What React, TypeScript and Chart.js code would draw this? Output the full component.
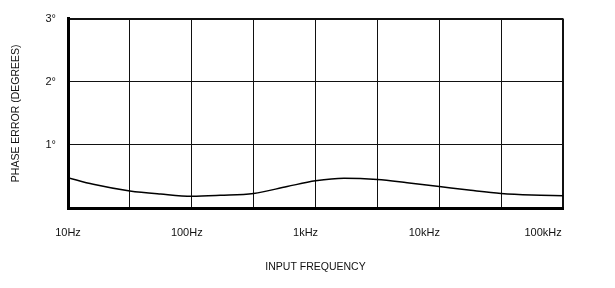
import { useEffect, useRef } from 'react';
import { Chart, registerables } from 'chart.js';

Chart.register(...registerables);

// Curve samples: input frequency (Hz) vs phase error (degrees)
const FREQS = [10, 16, 31.6, 56, 100, 170, 316, 590, 1000, 1700, 3160, 5500, 10000, 18000, 31600, 56000, 100000];
const PHASE_ERR = [0.48, 0.375, 0.27, 0.22, 0.185, 0.2, 0.23, 0.34, 0.43, 0.47, 0.45, 0.4, 0.34, 0.28, 0.23, 0.205, 0.195];

// Grid lines (half-decade) and labelled ticks
const GRID_FREQS = [10, 31.62, 100, 316.2, 1000, 3162, 10000, 31620, 100000];
const TICK_FREQS = [10, 100, 1000, 10000, 100000];
const TICK_LABELS = ['10Hz', '100Hz', '1kHz', '10kHz', '100kHz'];
const LABEL_AXIS_MAX = 147000;

const Y_TICKS = [0, 1, 2, 3];
const Y_TICK_LABELS = ['', '1°', '2°', '3°'];

const FONT = 'Liberation Sans, Arial, sans-serif';
const INK = '#111';

export default function App() {
  const ref = useRef<HTMLCanvasElement>(null);

  useEffect(() => {
    document.body.style.margin = '0';
    const chart = new Chart(ref.current!, {
      type: 'line',
      data: {
        datasets: [
          {
            data: FREQS.map((f, i) => ({ x: f, y: PHASE_ERR[i] })),
            borderColor: '#000',
            borderWidth: 1.5,
            pointRadius: 0,
            cubicInterpolationMode: 'monotone',
            fill: false,
          },
        ],
      },
      options: {
        responsive: false,
        animation: false,
        layout: { padding: { top: 16, right: 52, bottom: 0, left: 0 } },
        plugins: { legend: { display: false }, tooltip: { enabled: false } },
        scales: {
          x: {
            type: 'logarithmic',
            min: 10,
            max: 100000,
            position: 'bottom',
            weight: 0,
            afterBuildTicks: (s: any) => {
              s.ticks = GRID_FREQS.map((v) => ({ value: v }));
            },
            ticks: { display: false },
            grid: {
              color: INK,
              lineWidth: (ctx: any) => (ctx.tick && ctx.tick.value === 100000 ? 2 : 1),
              drawTicks: false,
            },
            border: { color: '#000', width: 3 },
            afterFit: (s: any) => {
              s.height = 0;
            },
          },
          x2: {
            type: 'logarithmic',
            min: 10,
            max: LABEL_AXIS_MAX,
            position: 'bottom',
            weight: 1,
            afterBuildTicks: (s: any) => {
              s.ticks = TICK_FREQS.map((v) => ({ value: v }));
            },
            ticks: {
              callback: (v: any) => {
                const i = TICK_FREQS.indexOf(Number(v));
                return i >= 0 ? TICK_LABELS[i] : '';
              },
              font: { family: FONT, size: 11 },
              color: INK,
              padding: 18,
              maxRotation: 0,
              autoSkip: false,
            },
            grid: { display: false, drawTicks: false },
            border: { display: false },
            title: {
              display: true,
              text: 'INPUT FREQUENCY',
              font: { family: FONT, size: 10.5 },
              color: INK,
              padding: { top: 0, bottom: 15 },
            },
            afterFit: (s: any) => {
              s.height = 80;
            },
          },
          y: {
            min: 0,
            max: 3,
            afterBuildTicks: (s: any) => {
              s.ticks = Y_TICKS.map((v) => ({ value: v }));
            },
            ticks: {
              callback: (v: any) => {
                const i = Y_TICKS.indexOf(Number(v));
                return i >= 0 ? Y_TICK_LABELS[i] : '';
              },
              font: { family: FONT, size: 11 },
              color: INK,
              padding: 12,
            },
            grid: {
              color: INK,
              lineWidth: (ctx: any) => (ctx.tick && ctx.tick.value === 3 ? 2 : 1),
              drawTicks: false,
            },
            border: { color: '#000', width: 3 },
            title: {
              display: true,
              text: 'PHASE ERROR (DEGREES)',
              font: { family: FONT, size: 10.5 },
              color: INK,
              padding: { top: 10, bottom: 0 },
            },
            afterFit: (s: any) => {
              s.width = 68;
            },
          },
        },
      } as any,
    });
    return () => chart.destroy();
  }, []);

  return <canvas ref={ref} width={615} height={288} style={{ display: 'block' }} />;
}
